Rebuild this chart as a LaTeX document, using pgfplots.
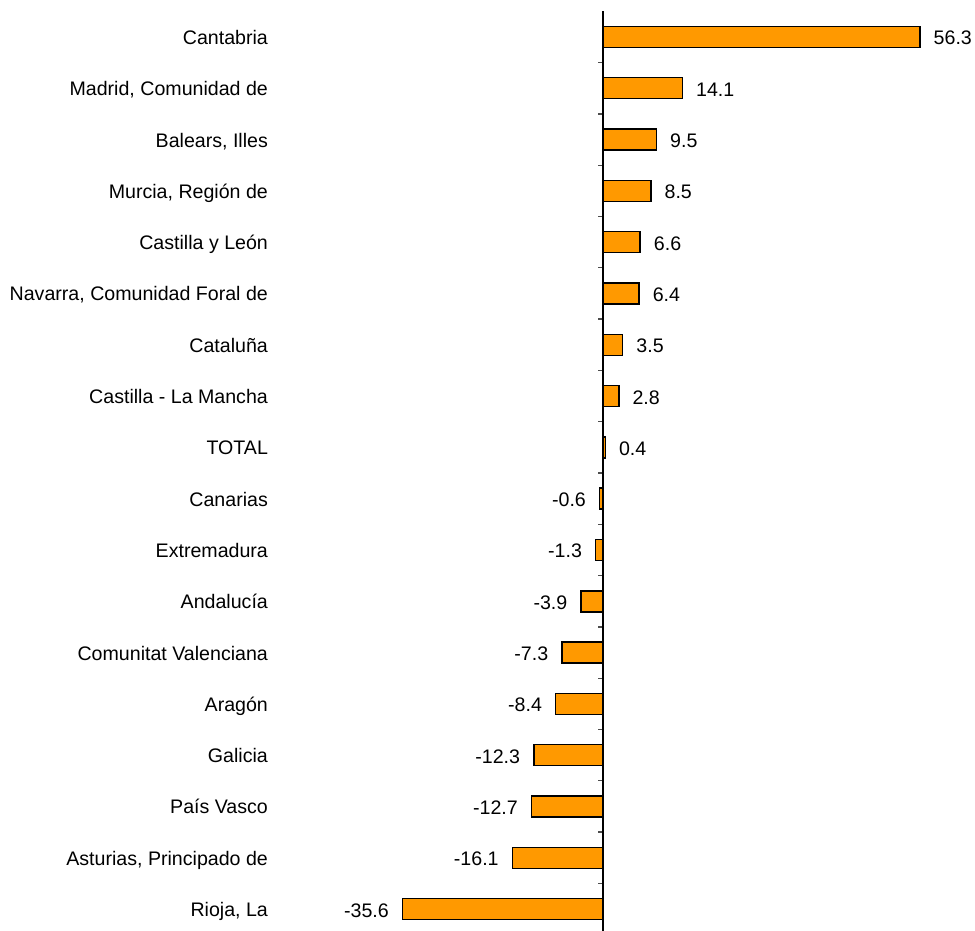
\documentclass[border=0pt]{standalone}
\usepackage{pgfplots}
\pgfplotsset{compat=1.18}
\usepackage{fontspec}
\setmainfont{Liberation Sans}
\definecolor{barorange}{HTML}{FF9900}
\begin{document}
\begin{tikzpicture}[x=1pt,y=1pt]
\begin{axis}[
  at={(282.09pt,0pt)}, anchor=south west,
  scale only axis, width=675.6pt, height=919.7pt,
  xmin=-57, xmax=63, ymin=-0.427, ymax=17.5,
  xbar, bar width=21pt, bar shift=0pt,
  axis line style={draw=none},
  xtick=\empty,
  ytick={0,...,17},
  yticklabels={{Rioja, La},{Asturias, Principado de},{País Vasco},{Galicia},{Aragón},{Comunitat Valenciana},{Andalucía},{Extremadura},{Canarias},{TOTAL},{Castilla - La Mancha},{Cataluña},{Navarra, Comunidad Foral de},{Castilla y León},{Murcia, Región de},{Balears, Illes},{Madrid, Comunidad de},{Cantabria}},
  major tick length=0pt,
  ytick style={draw=none},
  y tick label style={anchor=east, inner sep=0pt, xshift=-14pt, text height=14pt, text depth=0pt, font=\fontsize{19.6}{23}\selectfont, yshift=-0.5pt},
  point meta=x,
  nodes near coords, nodes near coords align=horizontal,
  every node near coord/.append style={font=\fontsize{19.6}{23}\selectfont, inner xsep=13pt, inner ysep=0pt, text height=14pt, text depth=0pt, text=black, yshift=-1pt},
  /pgf/number format/fixed, /pgf/number format/fixed zerofill, /pgf/number format/precision=1, /pgf/number format/assume math mode=true,
  clip=false,
]
\addplot[fill=barorange, draw=black, line width=1.5pt] coordinates {
(-35.6,0) (-16.1,1) (-12.7,2) (-12.3,3) (-8.4,4) (-7.3,5) (-3.9,6) (-1.3,7) (-0.6,8) (0.4,9) (2.8,10) (3.5,11) (6.4,12) (6.6,13) (8.5,14) (9.5,15) (14.1,16) (56.3,17)
};
\pgfplotsinvokeforeach{0,...,17}{\draw[line width=1.3pt, color=black!70] (axis cs:0,#1-0.5) -- ++(-5.5pt,0pt);}
\draw[line width=2pt, black] (axis cs:0,-0.427) -- (axis cs:0,17.5);
\end{axis}
\pgfresetboundingbox
\useasboundingbox (0,0) rectangle (975,931);
\end{tikzpicture}
\end{document}
